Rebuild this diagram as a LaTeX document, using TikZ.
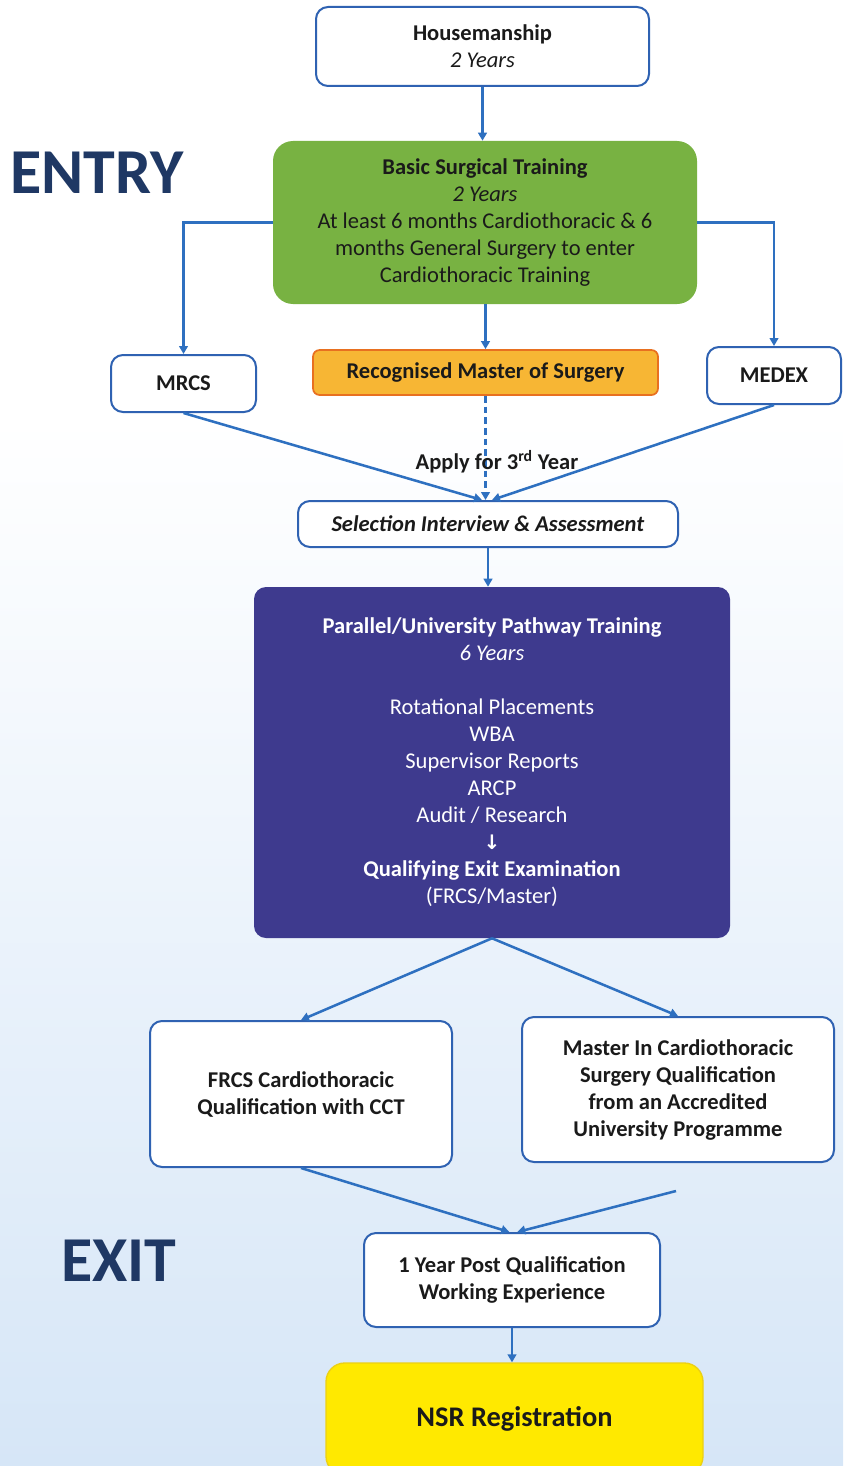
\documentclass[tikz,border=0pt]{standalone}
\usepackage{fontspec}
\setmainfont{Carlito}
\newfontfamily\symfont{DejaVu Sans}
\usetikzlibrary{arrows.meta}

\definecolor{linkblue}{RGB}{46,112,192}
\definecolor{edgeblue}{RGB}{47,98,178}
\definecolor{grassgreen}{RGB}{120,178,66}
\definecolor{ambre}{RGB}{247,182,52}
\definecolor{ambreedge}{RGB}{232,112,32}
\definecolor{indigo}{RGB}{62,58,142}
\definecolor{lemon}{RGB}{255,233,0}
\definecolor{lemonedge}{RGB}{236,208,20}
\definecolor{navy}{RGB}{31,56,100}
\definecolor{ink}{RGB}{26,26,26}
\definecolor{paleblue}{RGB}{214,230,247}

\tikzset{
  sz/.style 2 args={minimum width=#1*0.75pt, minimum height=#2*0.75pt},
  boxtext/.style={align=center, text=ink, font=\fontsize{16.9}{20.25}\selectfont, inner sep=2pt},
  wbox/.style={boxtext, draw=edgeblue, line width=1.5pt, fill=white, rounded corners=9pt},
  greenbox/.style={boxtext, fill=grassgreen, rounded corners=15pt},
  orangebox/.style={boxtext, draw=ambreedge, line width=1.3pt, fill=ambre, rounded corners=5pt},
  purplebox/.style={boxtext, text=white, fill=indigo, rounded corners=9pt},
  yellowbox/.style={boxtext, draw=lemonedge, line width=1pt, fill=lemon, rounded corners=14pt},
  arr/.style={draw=linkblue, line width=1.9pt, -{Triangle[length=6pt,width=6.5pt]}},
  phase/.style={text=navy, font=\fontsize{48}{56}\selectfont\bfseries, inner sep=0pt},
}

\begin{document}
\begin{tikzpicture}[x=0.75pt,y=-0.75pt]
\useasboundingbox (0,0) rectangle (843,1466);
\clip (0,0) rectangle (843,1466);

% page background: white fading to pale blue
\fill[white] (0,0) rectangle (843,420);
\fill[top color=white, bottom color=paleblue] (0,419) rectangle (843,1466);

% phase headings
\node[phase, anchor=west] (entry) at (10,173) {ENTRY};
\node[phase, anchor=west] (exit) at (61,1261) {EXIT};

% boxes
\node[wbox, sz={333}{79}] (house) at (482.5,46.5)
  {\textbf{Housemanship}\\\textit{2 Years}};
\node[greenbox, sz={424}{163}] (bst) at (485,222.5)
  {\textbf{Basic Surgical Training}\\\textit{2 Years}\\
   At least 6 months Cardiothoracic \& 6\\
   months General Surgery to enter\\
   Cardiothoracic Training};
\node[wbox, sz={145}{57}] (mrcs) at (183.5,383.5) {\textbf{MRCS}};
\node[orangebox, sz={345}{45}] (ms) at (485.5,372.5) {\textbf{Recognised Master of Surgery}};
\node[wbox, sz={134}{57}] (medex) at (774,375.5) {\textbf{MEDEX}};
\node[wbox, sz={380}{46}] (sel) at (488,524)
  {\textbf{\textit{Selection Interview \& Assessment}}};
\node[purplebox, sz={476}{351}] (path) at (492,762.5)
  {\textbf{Parallel/University Pathway Training}\\\textit{6 Years}\\[20.25pt]
   Rotational Placements\\WBA\\Supervisor Reports\\ARCP\\Audit / Research\\
   {\symfont\bfseries\fontsize{15}{20.25}\selectfont ↓}\\
   \textbf{Qualifying Exit Examination}\\(FRCS/Master)};
\node[wbox, sz={302}{146}] (frcs) at (301,1094)
  {\textbf{FRCS Cardiothoracic}\\\textbf{Qualification with CCT}};
\node[wbox, sz={312}{145}] (master) at (678,1089.5)
  {\textbf{Master In Cardiothoracic}\\\textbf{Surgery Qualification}\\
   \textbf{from an Accredited}\\\textbf{University Programme}};
\node[wbox, sz={296}{94}] (post) at (512,1280)
  {\textbf{1 Year Post Qualification}\\\textbf{Working Experience}};
\node[yellowbox, sz={377}{112}, font=\fontsize{21.3}{25}\selectfont] (nsr) at (514.5,1419)
  {\textbf{NSR Registration}};

% connectors
\draw[arr] (house.south) -- (house.south |- bst.north);
\draw[arr] (bst.west) -| (mrcs.north);
\draw[arr] (bst.east) -| (medex.north);
\draw[arr] (bst.south -| ms.north) -- (ms.north);
\draw[arr] (mrcs.south) -- ([xshift=-4.5pt]sel.north);
\draw[arr] (medex.south) -- ([xshift=3pt]sel.north);
\draw[arr, dashed, dash pattern=on 5pt off 3pt] (ms.south) -- (ms.south |- sel.north);
\node[text=ink, font=\fontsize{16.9}{20}\selectfont\bfseries, inner sep=1pt] (apply) at (497,462)
  {Apply for 3\textsuperscript{rd} Year};
\draw[arr] (sel.south) -- (sel.south |- path.north);
\draw[arr] (path.south) -- (frcs.north);
\draw[arr] (path.south) -- (master.north);
\coordinate (mfree) at (676,1191);
\draw[arr] (frcs.south) -- ([xshift=-2pt]post.north);
\draw[arr] (mfree) -- ([xshift=4pt]post.north);
\draw[arr] (post.south) -- (post.south |- nsr.north);
\end{tikzpicture}
\end{document}
